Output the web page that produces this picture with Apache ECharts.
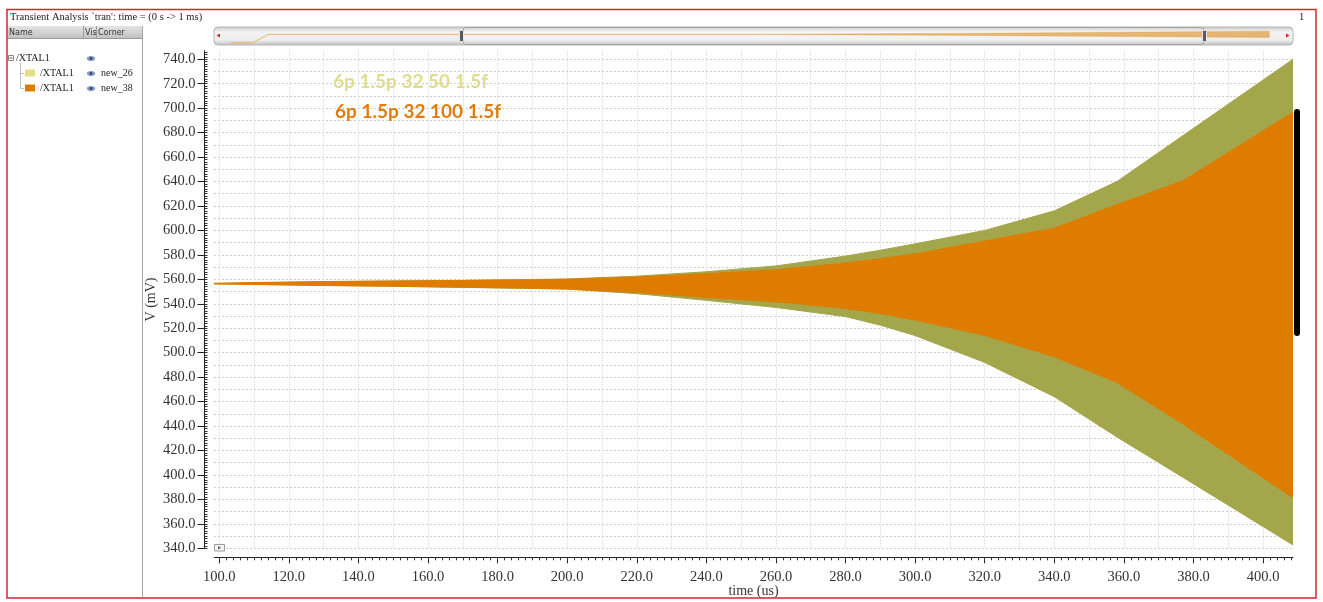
<!DOCTYPE html>
<html>
<head>
<meta charset="utf-8">
<title>Transient Analysis</title>
<script src="https://cdn.jsdelivr.net/npm/echarts@6/dist/echarts.min.js"></script>
<style>
  html, body { margin: 0; padding: 0; background: #ffffff; }
  #chart { width: 1323px; height: 602px; }
</style>
</head>
<body>
<div id="chart"></div>
<script>
// Envelope of the two /XTAL1 transient runs (time in us, voltage in mV)
const timeUs  = [98.5, 110, 130, 150, 170, 190, 200, 220, 240, 260, 280, 290, 300, 320, 340, 358, 377, 408.6];
const new26Hi = [556.5, 557.1, 558.0, 558.6, 559.2, 559.9, 560.3, 562.6, 566.2, 571.0, 579.0, 583.8, 589.0, 600.0, 616.0, 640.0, 677.6, 740.0];
const new26Lo = [556.5, 555.9, 555.0, 554.3, 553.4, 552.5, 552.0, 548.3, 542.8, 537.0, 529.5, 522.5, 514.0, 492.0, 464.0, 431.0, 398.0, 342.7];
const new38Hi = [556.5, 557.0, 557.8, 558.3, 558.8, 559.4, 559.8, 561.5, 564.2, 567.5, 573.0, 576.5, 580.5, 591.0, 601.5, 620.8, 640.3, 696.3];
const new38Lo = [556.5, 556.0, 555.2, 554.6, 553.8, 553.0, 552.5, 549.6, 545.5, 542.0, 536.5, 532.3, 527.0, 514.5, 497.0, 476.0, 442.0, 381.7];

// Overview strip (whole 0 s -> 1 ms run, arbitrary strip units)
const ovTime   = [14.8, 36.1, 50, 506];
const ovLevel  = [1.3, 1.3, 5.9, 5.9];
const ovBandT  = [506, 600, 700, 800, 900, 978];
const ovBandHi = [6.0, 6.2, 6.5, 6.9, 7.3, 7.6];
const ovBandLo = [5.8, 5.6, 5.3, 4.9, 4.5, 4.2];

// Tick labels
const xTicks = [100, 120, 140, 160, 180, 200, 220, 240, 260, 280, 300, 320, 340, 360, 380, 400];
const yTicks = [340, 360, 380, 400, 420, 440, 460, 480, 500, 520, 540, 560, 580, 600, 620, 640, 660, 680, 700, 720, 740];

const X_MIN = 98.5, X_MAX = 408.6, Y_MIN = 340, Y_MAX = 747;

const OLIVE = '#a4a64c';
const ORANGE = '#de7c00';
const SERIF = '"Liberation Serif", "DejaVu Serif", serif';

function range(a, b, step) {
  const out = [];
  for (let v = a; v <= b + 1e-9; v += step) out.push(Math.round(v * 100) / 100);
  return out;
}
const xGrid = range(100, 400, 10);
const yGrid = range(340, 740, 10);
const xMinor = range(100, 408, 2);
const yMinor = range(340, 746, 2);

function pairs(xs, ys) { return xs.map((x, i) => [x, ys[i]]); }

// Filled envelope between a low and a high trace, drawn as one polygon
function envelopeSeries(name, xs, lo, hi, color, axisIdx, strokeWidth, z, opacity) {
  return {
    name: name, type: 'custom', xAxisIndex: axisIdx, yAxisIndex: axisIdx,
    silent: true, clip: true, z: z,
    data: xs.map((x, i) => [x, lo[i], hi[i]]),
    encode: { x: 0, y: [1, 2] },
    renderItem: function (params, api) {
      if (params.dataIndex !== 0) return null;
      const top = xs.map((x, i) => api.coord([x, hi[i]]));
      const bottom = xs.map((x, i) => api.coord([x, lo[i]])).reverse();
      return {
        type: 'polygon',
        shape: { points: top.concat(bottom) },
        style: { fill: color, stroke: color, lineWidth: strokeWidth, lineJoin: 'round', opacity: opacity == null ? 1 : opacity }
      };
    }
  };
}

const PLOT = { left: 214, top: 50.7, width: 1079, height: 497.6 };

function eye(cx, cy) {
  return [
    { type: 'ellipse', shape: { cx: cx, cy: cy, rx: 4.2, ry: 2.6 }, style: { fill: '#8a9cc2' }, z: 50 },
    { type: 'circle', shape: { cx: cx, cy: cy, r: 1.4 }, style: { fill: '#34467a' }, z: 51 }
  ];
}

const barGrad = new echarts.graphic.LinearGradient(0, 0, 0, 1, [
  { offset: 0, color: '#c6c6c6' }, { offset: 0.28, color: '#f3f3f3' },
  { offset: 0.72, color: '#ededed' }, { offset: 1, color: '#bcbcbc' }
]);
const winGrad = new echarts.graphic.LinearGradient(0, 0, 0, 1, [
  { offset: 0, color: '#cfcfcf' }, { offset: 0.3, color: '#f7f7f7' },
  { offset: 0.7, color: '#f1f1f1' }, { offset: 1, color: '#c4c4c4' }
]);
const headGrad = new echarts.graphic.LinearGradient(0, 0, 0, 1, [
  { offset: 0, color: '#e4e4e4' }, { offset: 1, color: '#c2c2c2' }
]);

const graphics = [
  // outer frame and title
  { type: 'rect', shape: { x: 7, y: 9.5, width: 1309, height: 588.5 }, style: { fill: 'none', stroke: '#cc2b2b', lineWidth: 1.5 }, z: 60 },
  { type: 'text', x: 10, y: 17.5, style: { text: "Transient Analysis `tran': time = (0 s -> 1 ms)", font: '10.5px ' + SERIF, fill: '#222', textVerticalAlign: 'middle' }, z: 50 },
  { type: 'text', x: 1299, y: 17.5, style: { text: '1', font: '10.5px ' + SERIF, fill: '#222', textVerticalAlign: 'middle' }, z: 50 },

  // signal browser panel
  { type: 'rect', shape: { x: 7.5, y: 26, width: 135, height: 12 }, style: { fill: headGrad }, z: 40 },
  { type: 'line', shape: { x1: 7.5, y1: 38.5, x2: 142.5, y2: 38.5 }, style: { stroke: '#9a9a9a', lineWidth: 1 }, z: 41 },
  { type: 'line', shape: { x1: 83.5, y1: 26, x2: 83.5, y2: 38 }, style: { stroke: '#a0a0a0', lineWidth: 1 }, z: 41 },
  { type: 'line', shape: { x1: 96.5, y1: 26, x2: 96.5, y2: 38 }, style: { stroke: '#a0a0a0', lineWidth: 1 }, z: 41 },
  { type: 'line', shape: { x1: 142.5, y1: 26, x2: 142.5, y2: 597 }, style: { stroke: '#a8a8a8', lineWidth: 1 }, z: 41 },
  { type: 'text', x: 9, y: 32.5, style: { text: 'Name', font: '8px "DejaVu Sans", sans-serif', fill: '#333', textVerticalAlign: 'middle' }, z: 42 },
  { type: 'text', x: 85, y: 32.5, style: { text: 'Vis', font: '8px "DejaVu Sans", sans-serif', fill: '#333', textVerticalAlign: 'middle' }, z: 42 },
  { type: 'text', x: 98, y: 32.5, style: { text: 'Corner', font: '8px "DejaVu Sans", sans-serif', fill: '#333', textVerticalAlign: 'middle' }, z: 42 },

  // tree
  { type: 'rect', shape: { x: 8.5, y: 55.5, width: 5, height: 5 }, style: { fill: '#fff', stroke: '#888', lineWidth: 1 }, z: 42 },
  { type: 'line', shape: { x1: 9.5, y1: 58, x2: 12.5, y2: 58 }, style: { stroke: '#555', lineWidth: 1 }, z: 43 },
  { type: 'text', x: 16, y: 58.5, style: { text: '/XTAL1', font: '10px ' + SERIF, fill: '#222', textVerticalAlign: 'middle' }, z: 42 },
  { type: 'line', shape: { x1: 20.5, y1: 63, x2: 20.5, y2: 88 }, style: { stroke: '#c0c0c0', lineWidth: 1 }, z: 41 },
  { type: 'line', shape: { x1: 20.5, y1: 73.5, x2: 24, y2: 73.5 }, style: { stroke: '#c0c0c0', lineWidth: 1 }, z: 41 },
  { type: 'line', shape: { x1: 20.5, y1: 88.5, x2: 24, y2: 88.5 }, style: { stroke: '#c0c0c0', lineWidth: 1 }, z: 41 },
  { type: 'rect', shape: { x: 25, y: 69.5, width: 10, height: 7 }, style: { fill: '#e2e085' }, z: 42 },
  { type: 'rect', shape: { x: 25, y: 84.5, width: 10, height: 7 }, style: { fill: ORANGE }, z: 42 },
  { type: 'text', x: 40, y: 73.5, style: { text: '/XTAL1', font: '10px ' + SERIF, fill: '#222', textVerticalAlign: 'middle' }, z: 42 },
  { type: 'text', x: 40, y: 88.5, style: { text: '/XTAL1', font: '10px ' + SERIF, fill: '#222', textVerticalAlign: 'middle' }, z: 42 },
  { type: 'text', x: 101, y: 73.5, style: { text: 'new_26', font: '10px ' + SERIF, fill: '#222', textVerticalAlign: 'middle' }, z: 42 },
  { type: 'text', x: 101, y: 88.5, style: { text: 'new_38', font: '10px ' + SERIF, fill: '#222', textVerticalAlign: 'middle' }, z: 42 },
  ...eye(91, 58.5), ...eye(91, 73.5), ...eye(91, 88.5),

  // overview strip with zoom window
  { type: 'rect', shape: { x: 214, y: 27, width: 1079, height: 18, r: 4 }, style: { fill: barGrad, stroke: '#b5b5b5', lineWidth: 1 }, z: 0 },
  { type: 'rect', shape: { x: 463, y: 27.5, width: 741, height: 17, r: 3 }, style: { fill: winGrad, stroke: '#a2a2a2', lineWidth: 1 }, z: 0 },
  { type: 'rect', shape: { x: 459.5, y: 30.5, width: 4, height: 11, r: 1 }, style: { fill: '#5a5a5a', stroke: '#e8e8e8', lineWidth: 1 }, z: 30 },
  { type: 'rect', shape: { x: 1202.5, y: 30.5, width: 4, height: 11, r: 1 }, style: { fill: '#5a5a5a', stroke: '#e8e8e8', lineWidth: 1 }, z: 30 },
  { type: 'polygon', shape: { points: [[216.5, 35.5], [220, 33.5], [220, 37.5]] }, style: { fill: '#e02020' }, z: 30 },
  { type: 'polygon', shape: { points: [[1289.5, 35.5], [1286, 33.5], [1286, 37.5]] }, style: { fill: '#e02020' }, z: 30 },

  // side scroll marker and corner button
  { type: 'rect', shape: { x: 1294, y: 109, width: 6, height: 227, r: 3 }, style: { fill: '#000' }, z: 60 },
  { type: 'rect', shape: { x: 214.5, y: 544.5, width: 10, height: 6.5 }, style: { fill: '#f4f4f4', stroke: '#9a9a9a', lineWidth: 1 }, z: 60 },
  { type: 'polygon', shape: { points: [[218, 545.9], [218, 549.6], [221.2, 547.75]] }, style: { fill: '#666' }, z: 61 },

  // run annotations
  { type: 'text', x: 333, y: 82, style: { text: '6p 1.5p 32 50 1.5f', font: 'bold 19px Lato, "Open Sans", sans-serif', fill: '#dedd8e', textVerticalAlign: 'middle' }, z: 55 },
  { type: 'text', x: 335, y: 112, style: { text: '6p 1.5p 32 100 1.5f', font: 'bold 19px Lato, "Open Sans", sans-serif', fill: '#e07d0e', textVerticalAlign: 'middle' }, z: 55 }
];

const hiddenAxis = {
  axisLine: { show: false }, axisTick: { show: false }, axisLabel: { show: false }, splitLine: { show: false }
};

const option = {
  animation: false,
  backgroundColor: '#ffffff',
  grid: [
    { left: PLOT.left, top: PLOT.top, width: PLOT.width, height: PLOT.height, containLabel: false, outerBoundsMode: 'none' },
    { left: 214, top: 27, width: 1079, height: 18, containLabel: false, outerBoundsMode: 'none' }
  ],
  xAxis: [
    {
      type: 'value', gridIndex: 0, min: X_MIN, max: X_MAX, position: 'bottom', offset: 9,
      axisLine: { show: true, lineStyle: { color: '#222', width: 1 } },
      axisTick: { show: true, length: 6, customValues: xTicks, lineStyle: { color: '#222' } },
      axisLabel: { customValues: xTicks, formatter: v => v.toFixed(1), margin: 12, color: '#333', fontFamily: SERIF, fontSize: 14.5 },
      splitLine: { show: false },
      name: 'time (us)', nameLocation: 'middle', nameGap: 27, nameMoveOverlap: false,
      nameTextStyle: { fontFamily: SERIF, fontSize: 14, color: '#333' }
    },
    {
      type: 'value', gridIndex: 0, min: X_MIN, max: X_MAX, position: 'bottom', offset: 9,
      axisLine: { show: false }, axisLabel: { show: false }, splitLine: { show: false },
      axisTick: { show: true, length: 3, customValues: xMinor, lineStyle: { color: '#333' } }
    },
    {
      type: 'value', gridIndex: 0, min: X_MIN, max: X_MAX, position: 'bottom',
      axisLine: { show: false }, axisLabel: { show: false },
      axisTick: { show: false, customValues: xGrid },
      splitLine: { show: true, lineStyle: { color: '#e3e3e3', width: 1, type: [2, 1] } }
    },
    { type: 'value', gridIndex: 1, min: 0, max: 1000, ...hiddenAxis }
  ],
  yAxis: [
    {
      type: 'value', gridIndex: 0, min: Y_MIN, max: Y_MAX, position: 'left', offset: 9.5,
      axisLine: { show: true, lineStyle: { color: '#222', width: 1 } },
      axisTick: { show: true, length: 7, customValues: yTicks, lineStyle: { color: '#222' } },
      axisLabel: { customValues: yTicks, formatter: v => v.toFixed(1), margin: 9, color: '#333', fontFamily: SERIF, fontSize: 14.5 },
      splitLine: { show: false },
      name: 'V (mV)', nameLocation: 'middle', nameGap: 46, nameMoveOverlap: false,
      nameTextStyle: { fontFamily: SERIF, fontSize: 14, color: '#333' }
    },
    {
      type: 'value', gridIndex: 0, min: Y_MIN, max: Y_MAX, position: 'left', offset: 9.5,
      axisLine: { show: false }, axisLabel: { show: false }, splitLine: { show: false },
      axisTick: { show: true, inside: true, length: 3, customValues: yMinor, lineStyle: { color: '#333' } }
    },
    {
      type: 'value', gridIndex: 0, min: Y_MIN, max: Y_MAX, position: 'left',
      axisLine: { show: false }, axisLabel: { show: false },
      axisTick: { show: false, customValues: yGrid },
      splitLine: { show: true, lineStyle: { color: '#cdcdcd', width: 1, type: [2, 2] } }
    },
    { type: 'value', gridIndex: 1, min: 0, max: 10, ...hiddenAxis }
  ],
  series: [
    envelopeSeries('new_26', timeUs, new26Lo, new26Hi, OLIVE, 0, 1, 3),
    envelopeSeries('new_38', timeUs, new38Lo, new38Hi, ORANGE, 0, 1.8, 4),
    {
      name: 'overview', type: 'line', xAxisIndex: 3, yAxisIndex: 3,
      data: pairs(ovTime, ovLevel), symbol: 'none', silent: true,
      lineStyle: { color: '#efb368', width: 1 }, z: 5
    },
    envelopeSeries('overview band', ovBandT, ovBandLo, ovBandHi, '#e0a048', 3, 0.5, 5, 0.75)
  ],
  graphic: graphics
};

const chart = echarts.init(document.getElementById('chart'), null, { renderer: 'canvas' });
chart.setOption(option);
</script>
</body>
</html>
